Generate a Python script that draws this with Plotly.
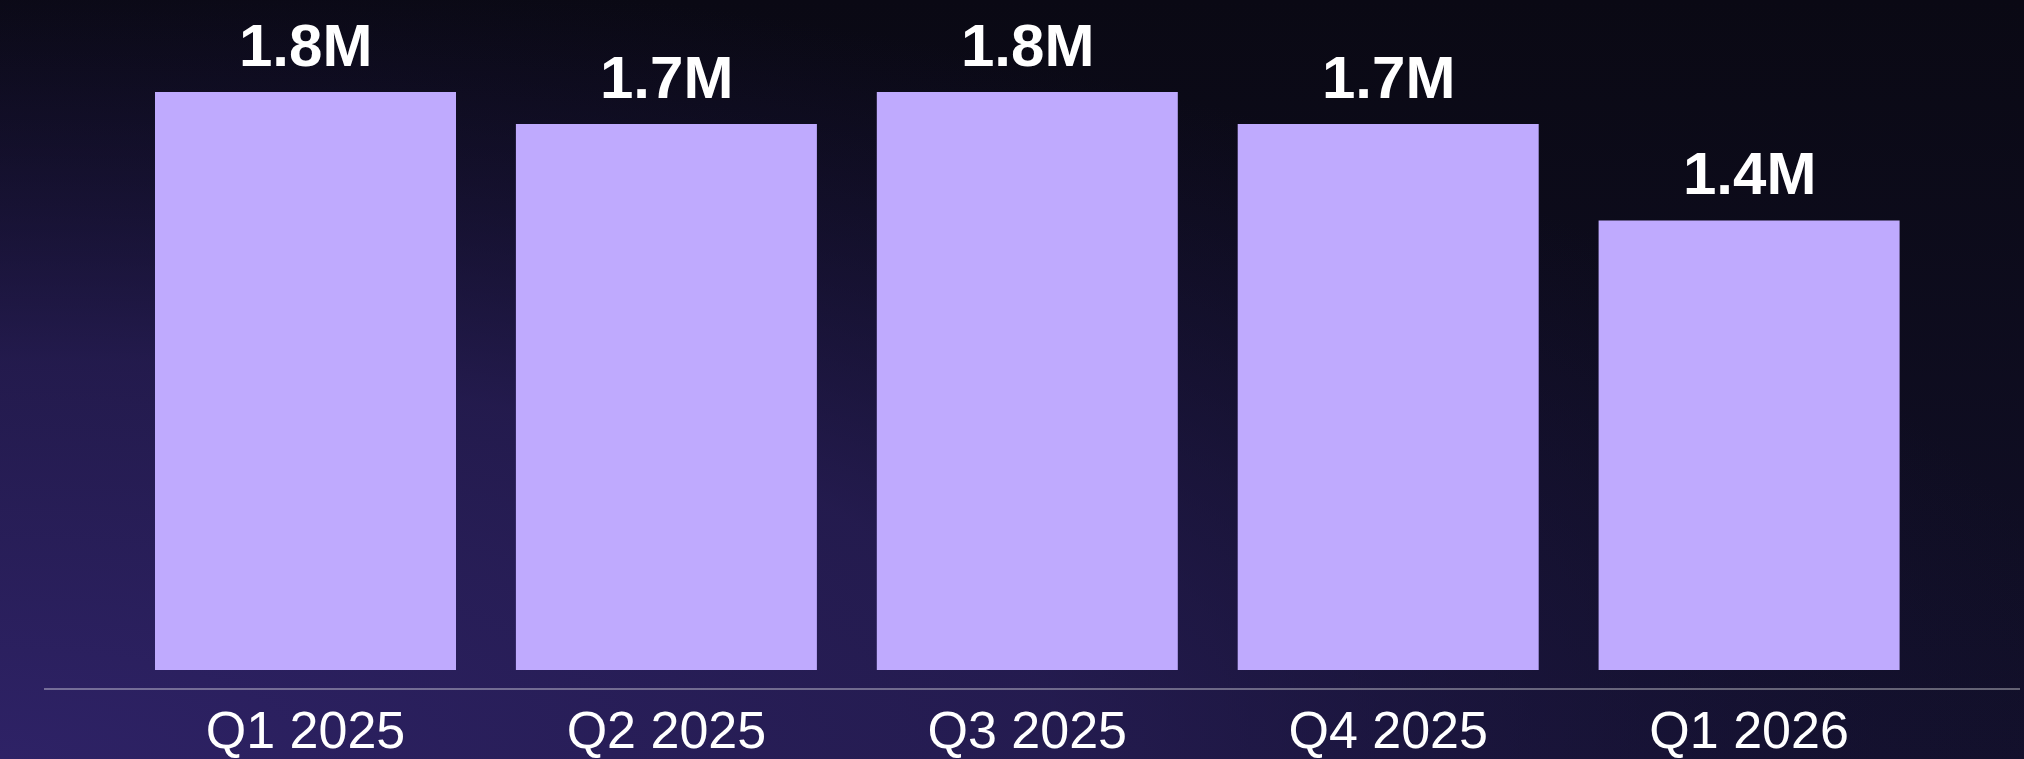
import plotly.graph_objects as go
import urllib.parse

categories = ["Q1 2025", "Q2 2025", "Q3 2025", "Q4 2025", "Q1 2026"]
values = [1_800_000, 1_700_000, 1_800_000, 1_700_000, 1_400_000]
labels = ["1.8M", "1.7M", "1.8M", "1.7M", "1.4M"]

W, H = 2024, 759
ML, MR, MT, MB = 44, 4, 0, 71

bg_svg = f"""<svg xmlns='http://www.w3.org/2000/svg' width='{W}' height='{H}' viewBox='0 0 {W} {H}' preserveAspectRatio='none'>
<defs>
<linearGradient id='lg' x1='0' y1='0' x2='0' y2='1'>
<stop offset='0' stop-color='#0a0914'/>
<stop offset='1' stop-color='#12102a'/>
</linearGradient>
<radialGradient id='rg' cx='0' cy='1' r='1.05' gradientUnits='objectBoundingBox'>
<stop offset='0' stop-color='#2e2266' stop-opacity='1'/>
<stop offset='0.5' stop-color='#2a1f5c' stop-opacity='0.75'/>
<stop offset='1' stop-color='#1a1440' stop-opacity='0'/>
</radialGradient>
</defs>
<rect x='0' y='0' width='{W}' height='{H}' fill='url(#lg)'/>
<rect x='0' y='0' width='{W}' height='{H}' fill='url(#rg)'/>
</svg>"""
bg_uri = "data:image/svg+xml;charset=utf-8," + urllib.parse.quote(bg_svg)

pw = W - ML - MR
ph = H - MT - MB

fig = go.Figure()
fig.add_trace(go.Bar(
    x=list(range(len(categories))),
    y=values,
    marker=dict(color="#bfaafe", line=dict(width=0)),
    width=0.834,
    hoverinfo="skip",
))

for i, (v, t) in enumerate(zip(values, labels)):
    fig.add_annotation(
        x=i, y=v, text=t, showarrow=False, yanchor="bottom", xanchor="center",
        yshift=12, borderpad=0,
        font=dict(family="Liberation Sans, Arial, sans-serif", size=60, color="#ffffff", weight="bold"),
    )

px_per_unit = 360.9
x0 = -(305.5 - ML) / px_per_unit
x1 = x0 + pw / px_per_unit
px_per_val = (670 - 92) / 1_800_000
y0 = -(688 - 670) / px_per_val
y1 = y0 + ph / px_per_val

fig.update_layout(
    width=W, height=H, autosize=False,
    margin=dict(l=ML, r=MR, t=MT, b=MB, pad=0, autoexpand=False),
    paper_bgcolor="#0c0a1c",
    plot_bgcolor="rgba(0,0,0,0)",
    showlegend=False,
    images=[dict(
        source=bg_uri, xref="paper", yref="paper",
        x=-ML / pw, y=1 + MT / ph, sizex=W / pw, sizey=H / ph,
        xanchor="left", yanchor="top", sizing="stretch", layer="below",
    )],
    xaxis=dict(
        range=[x0, x1], tickmode="array", tickvals=list(range(len(categories))),
        ticktext=categories, showgrid=False, zeroline=False,
        showline=True, linecolor="rgba(255,255,255,0.35)", linewidth=2,
        ticks="", ticklabelstandoff=-4, automargin=False,
        tickfont=dict(family="Liberation Sans, Arial, sans-serif", size=52, color="#ffffff"),
        fixedrange=True,
    ),
    yaxis=dict(
        range=[y0, y1], showgrid=False, zeroline=False, showticklabels=False,
        showline=False, fixedrange=True, automargin=False,
    ),
)

post = (
    "document.body.style.margin='0';document.body.style.padding='0';"
    "document.body.style.overflow='hidden';"
    "document.documentElement.style.background='#0c0a1c';"
)

fig.write_html(
    "out.html",
    config={"displayModeBar": False},
    post_script=post,
)
